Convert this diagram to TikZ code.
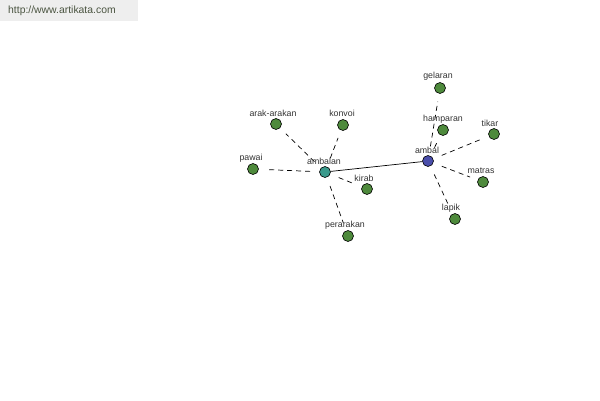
\documentclass[tikz,border=0pt]{standalone}
\usepackage{fontspec}
\setmainfont{Liberation Sans}
\usepackage{xcolor}
\usepackage{tikz}
\usetikzlibrary{positioning}
\definecolor{leafgreen}{HTML}{4E8A3C}
\definecolor{hubteal}{HTML}{3A9A8C}
\definecolor{hubblue}{HTML}{4A4EAA}
\definecolor{headgray}{HTML}{EEEEEE}
\definecolor{headtext}{HTML}{4A5440}

\tikzset{
  word/.style={circle, draw=black, line width=0.6pt, minimum size=11pt, inner sep=0pt},
  wordlbl/.style={font=\fontsize{8.8}{9}\selectfont, text=black!80, inner sep=1pt},
  link/.style={black, line width=0.7pt, dash pattern=on 5pt off 4pt, shorten <=9pt, shorten >=8pt}
}

\begin{document}
\begin{tikzpicture}[x=1pt, y=-1pt]
\useasboundingbox (0,0) rectangle (600,400);
\fill[headgray] (0,0) rectangle (138,21);
\node[anchor=west, font=\fontsize{10.4}{12}\selectfont, text=headtext, inner sep=0pt] (site) at (8,11) {http://www.artikata.com};

% two hubs
\node[word, fill=hubteal] (ambalan) at (325,172) {};
\node[word, fill=hubblue] (ambal) at (428,161) {};

% leaves of ambalan
\node[word, fill=leafgreen] (pawai) at (253,169) {};
\node[word, fill=leafgreen] (arakarakan) at (276,124) {};
\node[word, fill=leafgreen] (konvoi) at (343,125) {};
\node[word, fill=leafgreen] (kirab) at (367,189) {};
\node[word, fill=leafgreen] (perarakan) at (348,236) {};

% leaves of ambal
\node[word, fill=leafgreen] (gelaran) at (440,88) {};
\node[word, fill=leafgreen] (hamparan) at (443,130) {};
\node[word, fill=leafgreen] (tikar) at (494,134) {};
\node[word, fill=leafgreen] (matras) at (483,182) {};
\node[word, fill=leafgreen] (lapik) at (455,219) {};

\draw[black, line width=0.7pt] (ambalan) -- (ambal);
\foreach \leaf in {pawai,arakarakan,konvoi,kirab,perarakan}
  \draw[link] (ambalan) -- (\leaf);
\foreach \leaf in {gelaran,hamparan,tikar,matras,lapik}
  \draw[link] (ambal) -- (\leaf);

% labels
\node[wordlbl] (lambalan) at (324,161) {ambalan};
\node[wordlbl] (lambal) at (427,150) {ambal};
\node[wordlbl] (lpawai) at (251,158) {pawai};
\node[wordlbl] (larakarakan) at (273,113) {arak-arakan};
\node[wordlbl] (lkonvoi) at (342,113) {konvoi};
\node[wordlbl] (lkirab) at (364,178) {kirab};
\node[wordlbl] (lperarakan) at (345,225) {perarakan};
\node[wordlbl] (lgelaran) at (438,76) {gelaran};
\node[wordlbl] (lhamparan) at (443,119) {hamparan};
\node[wordlbl] (ltikar) at (490,123) {tikar};
\node[wordlbl] (lmatras) at (481,171) {matras};
\node[wordlbl] (llapik) at (451,208) {lapik};
\end{tikzpicture}
\end{document}
